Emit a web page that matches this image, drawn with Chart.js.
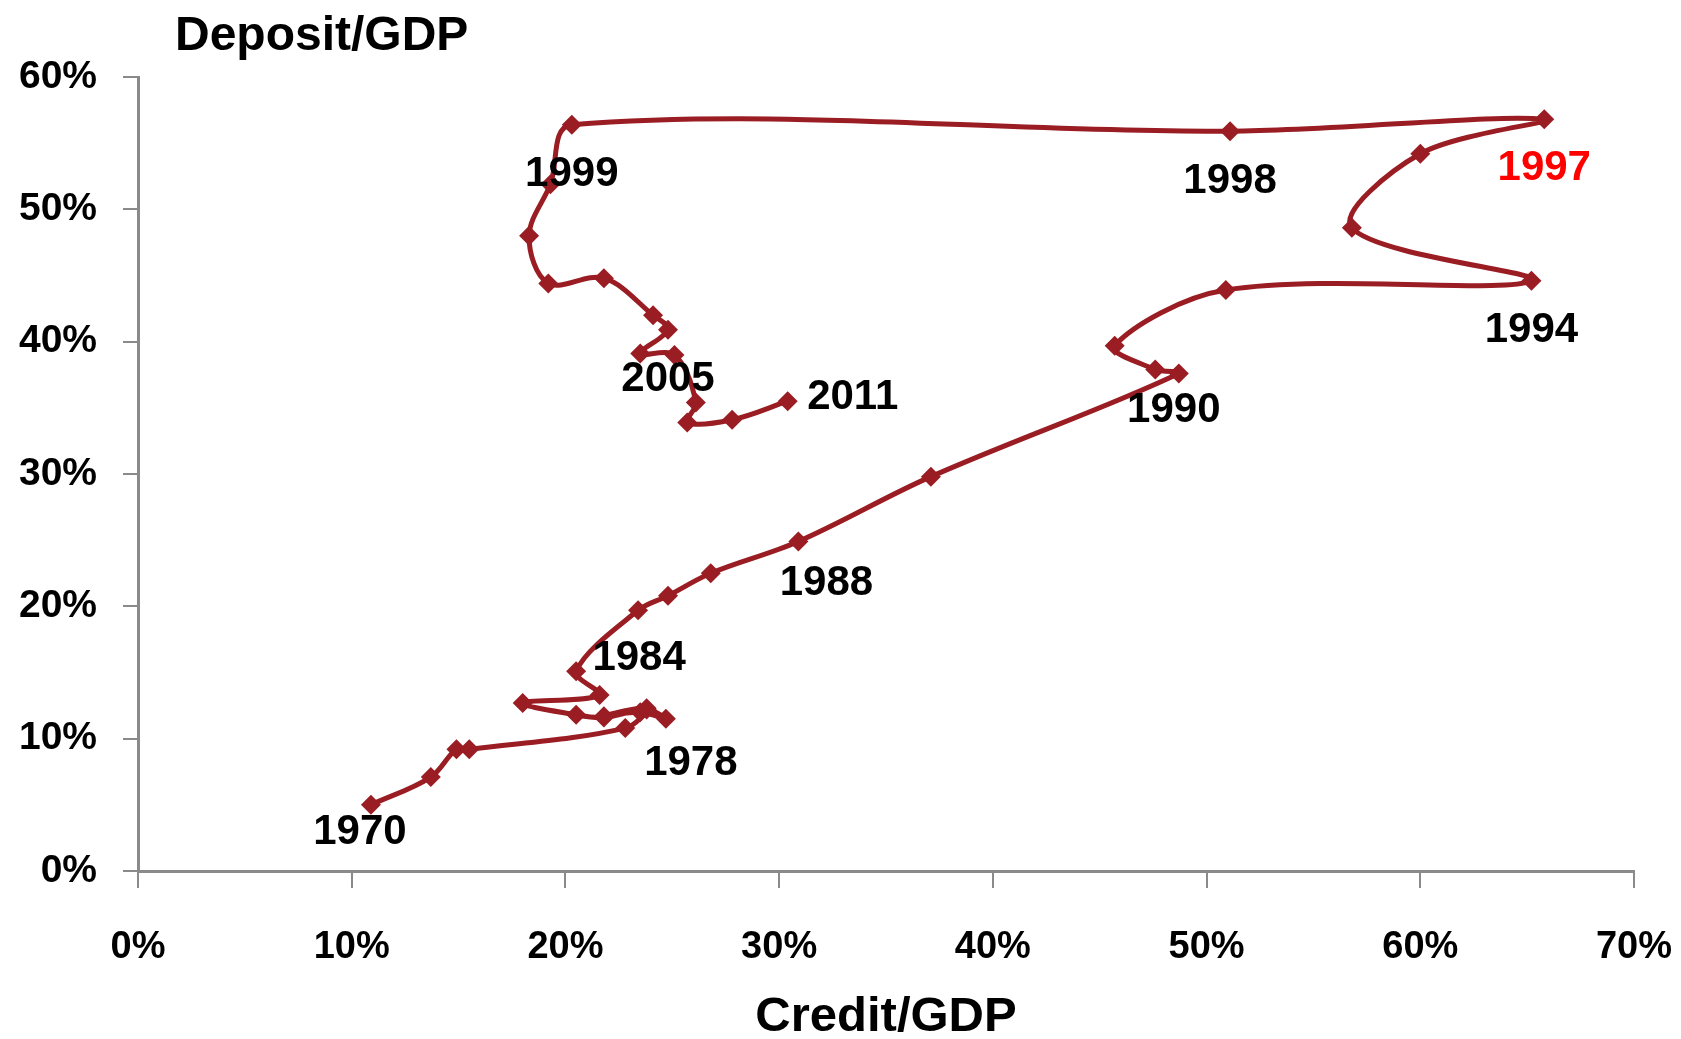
<!DOCTYPE html>
<html>
<head>
<meta charset="utf-8">
<script src="https://cdn.jsdelivr.net/npm/chart.js@4"></script>
<style>
  html, body { margin: 0; padding: 0; background: #fff; }
  #wrap { width: 1681px; height: 1039px; }
</style>
</head>
<body>
<div id="wrap"><canvas id="myChart" width="1681" height="1039"></canvas></div>
<script>
// years 1970..2011, credit/GDP (x) and deposit/GDP (y), in percent
let years = [];
for (let y = 1970; y <= 2011; y++) years.push(y);

let creditGdp = [
  10.9, 13.7, 14.9, 15.5, 22.8, 23.8, 21.8, 23.5, 24.7, 23.8,
  21.8, 20.5, 18.0, 21.6, 20.5, 23.4, 24.8, 26.8, 30.9, 37.1,
  48.7, 47.6, 45.7, 50.9, 65.2, 56.8, 60.0, 65.8, 51.1, 20.3,
  19.3, 18.3, 19.2, 21.8, 24.1, 24.8, 23.5, 25.1, 26.1, 25.7,
  27.8, 30.4
];
let depositGdp = [
  5.0, 7.1, 9.2, 9.2, 10.8, 12.3, 11.7, 12.0, 11.5, 12.2,
  11.6, 11.8, 12.7, 13.3, 15.1, 19.7, 20.8, 22.5, 24.9, 29.8,
  37.6, 37.9, 39.7, 43.9, 44.6, 48.6, 54.2, 56.8, 55.9, 56.4,
  51.9, 48.0, 44.4, 44.8, 42.0, 40.9, 39.1, 39.0, 35.4, 33.9,
  34.1, 35.5
];
let labelledYears = [1970, 1978, 1984, 1988, 1990, 1994, 1997, 1998, 1999, 2005, 2011];

// where each year label sits relative to its marker (px)
let labelOffsets = {
  1970: [-11, 28], 1978: [25, 45], 1984: [63, -13], 1988: [28, 42],
  1990: [-5, 37], 1994: [0, 50], 1997: [0, 49], 1998: [0, 50],
  1999: [0, 50], 2005: [0, 50], 2011: [65, -4]
};

const lineColor = '#9a1d24';
const axisGray = '#8a8a8a';
const fontFamily = '"Liberation Sans", Arial, sans-serif';

let points = years.map((yr, i) => ({ x: creditGdp[i], y: depositGdp[i] }));

const yearLabels = {
  id: 'yearLabels',
  afterDatasetsDraw(chart) {
    let ctx = chart.ctx;
    let xs = chart.scales.x, ys = chart.scales.y;
    ctx.save();
    ctx.font = 'bold 42px ' + fontFamily;
    ctx.textAlign = 'center';
    ctx.textBaseline = 'middle';
    labelledYears.forEach(yr => {
      let i = years.indexOf(yr);
      let off = labelOffsets[yr];
      let px = xs.getPixelForValue(creditGdp[i]) + off[0];
      let py = ys.getPixelForValue(depositGdp[i]) + off[1];
      ctx.fillStyle = yr === 1997 ? '#ff0000' : '#000000';
      ctx.fillText(String(yr), px, py);
    });
    // y axis title above the axis
    ctx.font = 'bold 48px ' + fontFamily;
    ctx.textAlign = 'left';
    ctx.fillStyle = '#000';
    ctx.fillText('Deposit/GDP', chart.chartArea.left + 37, 37);
    ctx.restore();
  }
};

let ctx = document.getElementById('myChart').getContext('2d');
let myChart = new Chart(ctx, {
  type: 'scatter',
  data: {
    datasets: [{
      data: points,
      showLine: true,
      borderColor: lineColor,
      borderWidth: 5,
      tension: 0.35,
      pointStyle: 'rectRot',
      pointRadius: 10,
      pointBackgroundColor: lineColor,
      pointBorderColor: lineColor,
      pointBorderWidth: 0
    }]
  },
  options: {
    responsive: false,
    animation: false,
    layout: { padding: { top: 77, right: 47, left: 0, bottom: 0 } },
    plugins: {
      legend: { display: false },
      tooltip: { enabled: false }
    },
    scales: {
      x: {
        type: 'linear',
        min: 0,
        max: 70,
        afterFit: (axis) => { axis.height = 168; axis.paddingRight = 0; axis.paddingLeft = 0; },
        border: { color: axisGray, width: 3 },
        grid: { drawOnChartArea: false, color: axisGray, lineWidth: 2, tickLength: 17 },
        ticks: {
          stepSize: 10,
          padding: 37,
          color: '#000',
          font: { family: fontFamily, size: 38, weight: 'bold' },
          callback: (v) => v + '%'
        },
        title: {
          display: true,
          text: 'Credit/GDP',
          color: '#000',
          font: { family: fontFamily, size: 49, weight: 'bold' },
          padding: { top: 0, bottom: -8 }
        }
      },
      y: {
        type: 'linear',
        min: 0,
        max: 60,
        afterFit: (axis) => { axis.width = 138; axis.paddingTop = 0; axis.paddingBottom = 0; },
        border: { color: axisGray, width: 3 },
        grid: { drawOnChartArea: false, color: axisGray, lineWidth: 2, tickLength: 15 },
        ticks: {
          stepSize: 10,
          padding: 26,
          color: '#000',
          font: { family: fontFamily, size: 39, weight: 'bold' },
          callback: (v) => v + '%'
        }
      }
    }
  },
  plugins: [yearLabels]
});
</script>
</body>
</html>
